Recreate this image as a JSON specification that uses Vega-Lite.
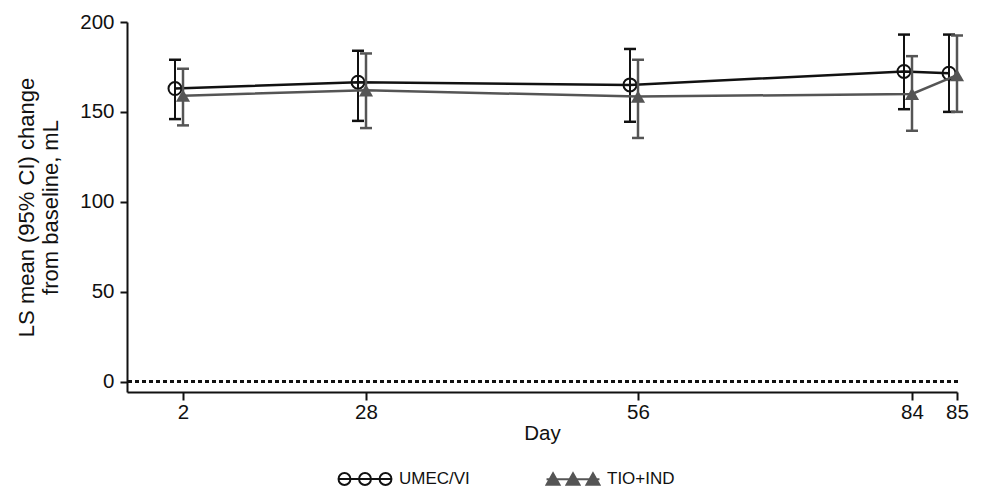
{
  "$schema": "https://vega.github.io/schema/vega-lite/v6.json",
  "autosize": "none",
  "width": 831,
  "height": 370,
  "padding": {"left": 127, "top": 22, "right": 26, "bottom": 96},
  "background": "white",
  "config": {
    "font": "Liberation Sans",
    "view": {"stroke": null},
    "axis": {"grid": false, "domainColor": "#111111", "domainWidth": 2, "tickColor": "#111111", "tickWidth": 2, "labelColor": "#111111", "titleColor": "#111111", "labelFont": "Liberation Sans", "titleFont": "Liberation Sans", "labelFontSize": 20.5, "titleFontSize": 20.5, "titleFontWeight": "normal"}
  },
  "data": {"values": [
    {"day": 2, "series": "UMEC/VI", "mean": 163, "lo": 146, "hi": 179},
    {"day": 28, "series": "UMEC/VI", "mean": 166.5, "lo": 145, "hi": 184},
    {"day": 56, "series": "UMEC/VI", "mean": 165, "lo": 144.5, "hi": 185},
    {"day": 84, "series": "UMEC/VI", "mean": 172.5, "lo": 151.5, "hi": 193},
    {"day": 85, "series": "UMEC/VI", "mean": 171.5, "lo": 150, "hi": 193},
    {"day": 2, "series": "TIO+IND", "mean": 159, "lo": 142.5, "hi": 174},
    {"day": 28, "series": "TIO+IND", "mean": 162, "lo": 141, "hi": 182.5},
    {"day": 56, "series": "TIO+IND", "mean": 158.5, "lo": 135.5, "hi": 179},
    {"day": 84, "series": "TIO+IND", "mean": 160, "lo": 139.5, "hi": 181},
    {"day": 85, "series": "TIO+IND", "mean": 170.5, "lo": 150, "hi": 192.5}
  ]},
  "encoding": {
    "x": {"field": "day", "type": "quantitative", "title": "Day",
      "scale": {"domain": [-6.1, 2, 28, 56, 84, 85], "range": [0, 56, 239, 511, 785, 830], "nice": false, "zero": false},
      "axis": {"values": [2, 28, 56, 84, 85], "tickSize": 8, "labelPadding": 2, "titlePadding": 1, "labelFlush": false}},
    "y": {"field": "mean", "type": "quantitative",
      "title": ["LS mean (95% CI) change", "from baseline, mL"],
      "scale": {"domain": [-5.8, 200], "nice": false, "zero": false},
      "axis": {"values": [0, 50, 100, 150, 200], "tickSize": 7, "labelPadding": 6, "titlePadding": 17, "titleLineHeight": 24, "titleFontSize": 22}}
  },
  "layer": [
    {"mark": {"type": "rule", "stroke": "#111111", "strokeWidth": 2, "strokeDash": [4, 3]},
     "encoding": {"x": null, "y": {"datum": 0, "type": "quantitative"}}},
    {"transform": [{"filter": "datum.series === 'UMEC/VI'"}],
     "layer": [
       {"mark": {"type": "rule", "stroke": "#111111", "strokeWidth": 2, "xOffset": -8},
        "encoding": {"y": {"field": "lo", "type": "quantitative"}, "y2": {"field": "hi"}}},
       {"mark": {"type": "tick", "orient": "horizontal", "color": "#111111", "size": 12, "thickness": 2.5, "xOffset": -8, "opacity": 1},
        "encoding": {"y": {"field": "lo", "type": "quantitative"}}},
       {"mark": {"type": "tick", "orient": "horizontal", "color": "#111111", "size": 12, "thickness": 2.5, "xOffset": -8, "opacity": 1},
        "encoding": {"y": {"field": "hi", "type": "quantitative"}}},
       {"mark": {"type": "line", "stroke": "#111111", "strokeWidth": 2.5, "xOffset": -8}},
       {"mark": {"type": "point", "shape": "circle", "filled": false, "stroke": "#111111", "strokeWidth": 2, "size": 169, "xOffset": -8, "opacity": 1}}
     ]},
    {"transform": [{"filter": "datum.series === 'TIO+IND'"}],
     "layer": [
       {"mark": {"type": "rule", "stroke": "#555555", "strokeWidth": 2.5},
        "encoding": {"y": {"field": "lo", "type": "quantitative"}, "y2": {"field": "hi"}}},
       {"mark": {"type": "tick", "orient": "horizontal", "color": "#555555", "size": 12, "thickness": 2.5, "opacity": 1},
        "encoding": {"y": {"field": "lo", "type": "quantitative"}}},
       {"mark": {"type": "tick", "orient": "horizontal", "color": "#555555", "size": 12, "thickness": 2.5, "opacity": 1},
        "encoding": {"y": {"field": "hi", "type": "quantitative"}}},
       {"mark": {"type": "line", "stroke": "#555555", "strokeWidth": 2.5}},
       {"mark": {"type": "point", "shape": "triangle-up", "filled": true, "fill": "#555555", "size": 200, "opacity": 1}}
     ]},
    {"mark": {"type": "point", "opacity": 0, "size": 10},
     "encoding": {
       "shape": {"field": "series", "type": "nominal",
         "scale": {"domain": ["UMEC/VI", "TIO+IND"], "range": [
           "M-0.98,0L0.98,0M-0.98,0A0.22,0.22 0 1 0 -0.54,0A0.22,0.22 0 1 0 -0.98,0M-0.22,0A0.22,0.22 0 1 0 0.22,0A0.22,0.22 0 1 0 -0.22,0M0.54,0A0.22,0.22 0 1 0 0.98,0A0.22,0.22 0 1 0 0.54,0",
           "M-0.98,0.2L-0.74,-0.22L-0.5,0.2ZM-0.24,0.2L0,-0.22L0.24,0.2ZM0.5,0.2L0.74,-0.22L0.98,0.2ZM-0.98,0L0.98,0"]},
         "legend": {"orient": "none", "legendX": 210, "legendY": 429, "direction": "horizontal", "title": null,
           "symbolSize": 2916, "symbolStrokeWidth": 2, "symbolOpacity": 1, "labelFontSize": 17, "labelFont": "Liberation Sans", "labelColor": "#111111", "labelOffset": 6, "columnPadding": 72, "padding": 0}},
       "fill": {"field": "series", "type": "nominal", "scale": {"domain": ["UMEC/VI", "TIO+IND"], "range": ["transparent", "#555555"]}},
       "stroke": {"field": "series", "type": "nominal", "scale": {"domain": ["UMEC/VI", "TIO+IND"], "range": ["#111111", "#555555"]}}
     }}
  ]
}
